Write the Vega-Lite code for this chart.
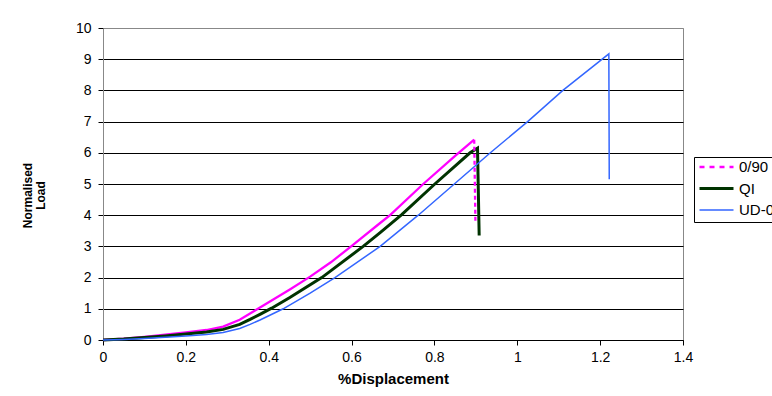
{
  "$schema": "https://vega.github.io/schema/vega-lite/v6.json",
  "width": 580,
  "height": 312,
  "autosize": {"type": "none"},
  "padding": {"left": 103, "top": 28, "right": 89, "bottom": 56},
  "background": "white",
  "config": {
    "font": "Liberation Sans",
    "view": {"stroke": "#888888", "strokeWidth": 1},
    "legend": {
      "orient": "none",
      "legendX": 591,
      "legendY": 129,
      "strokeColor": "black",
      "fillColor": "white",
      "padding": 4,
      "symbolType": "stroke",
      "symbolSize": 1156,
      "clipHeight": 12,
      "rowPadding": 6.5,
      "labelFontSize": 15,
      "labelOffset": 4,
      "labelColor": "black",
      "labelLimit": 200
    }
  },
  "data": {
    "values": [
      {"series": "0/90", "i": 0, "disp": 0, "load": 0},
      {"series": "0/90", "i": 1, "disp": 0.05, "load": 0.04},
      {"series": "0/90", "i": 2, "disp": 0.1, "load": 0.1},
      {"series": "0/90", "i": 3, "disp": 0.15, "load": 0.17},
      {"series": "0/90", "i": 4, "disp": 0.2, "load": 0.24},
      {"series": "0/90", "i": 5, "disp": 0.25, "load": 0.32},
      {"series": "0/90", "i": 6, "disp": 0.29, "load": 0.43},
      {"series": "0/90", "i": 7, "disp": 0.33, "load": 0.65},
      {"series": "0/90", "i": 8, "disp": 0.365, "load": 0.93},
      {"series": "0/90", "i": 9, "disp": 0.4, "load": 1.21},
      {"series": "0/90", "i": 10, "disp": 0.451, "load": 1.62},
      {"series": "0/90", "i": 11, "disp": 0.5, "load": 2.03},
      {"series": "0/90", "i": 12, "disp": 0.55, "load": 2.49},
      {"series": "0/90", "i": 13, "disp": 0.596, "load": 2.97},
      {"series": "0/90", "i": 14, "disp": 0.669, "load": 3.75},
      {"series": "0/90", "i": 15, "disp": 0.693, "load": 4.0},
      {"series": "0/90", "i": 16, "disp": 0.773, "load": 5.0},
      {"series": "0/90", "i": 17, "disp": 0.85, "load": 5.9},
      {"series": "0/90", "i": 18, "disp": 0.896, "load": 6.42},
      {"series": "0/90", "i": 19, "disp": 0.899, "load": 3.75},
      {"series": "QI", "i": 0, "disp": 0, "load": 0},
      {"series": "QI", "i": 1, "disp": 0.05, "load": 0.03},
      {"series": "QI", "i": 2, "disp": 0.1, "load": 0.08},
      {"series": "QI", "i": 3, "disp": 0.15, "load": 0.13},
      {"series": "QI", "i": 4, "disp": 0.2, "load": 0.19},
      {"series": "QI", "i": 5, "disp": 0.25, "load": 0.26},
      {"series": "QI", "i": 6, "disp": 0.29, "load": 0.34},
      {"series": "QI", "i": 7, "disp": 0.33, "load": 0.5},
      {"series": "QI", "i": 8, "disp": 0.355, "load": 0.66},
      {"series": "QI", "i": 9, "disp": 0.38, "load": 0.83},
      {"series": "QI", "i": 10, "disp": 0.407, "load": 1.02},
      {"series": "QI", "i": 11, "disp": 0.451, "load": 1.36},
      {"series": "QI", "i": 12, "disp": 0.528, "load": 2.0},
      {"series": "QI", "i": 13, "disp": 0.628, "load": 3.0},
      {"series": "QI", "i": 14, "disp": 0.669, "load": 3.44},
      {"series": "QI", "i": 15, "disp": 0.721, "load": 4.02},
      {"series": "QI", "i": 16, "disp": 0.801, "load": 5.0},
      {"series": "QI", "i": 17, "disp": 0.886, "load": 6.0},
      {"series": "QI", "i": 18, "disp": 0.904, "load": 6.15},
      {"series": "QI", "i": 19, "disp": 0.908, "load": 3.35},
      {"series": "UD-0", "i": 0, "disp": 0, "load": 0},
      {"series": "UD-0", "i": 1, "disp": 0.05, "load": 0.02},
      {"series": "UD-0", "i": 2, "disp": 0.1, "load": 0.05},
      {"series": "UD-0", "i": 3, "disp": 0.15, "load": 0.09},
      {"series": "UD-0", "i": 4, "disp": 0.2, "load": 0.13},
      {"series": "UD-0", "i": 5, "disp": 0.25, "load": 0.18},
      {"series": "UD-0", "i": 6, "disp": 0.29, "load": 0.24},
      {"series": "UD-0", "i": 7, "disp": 0.33, "load": 0.37},
      {"series": "UD-0", "i": 8, "disp": 0.355, "load": 0.5},
      {"series": "UD-0", "i": 9, "disp": 0.379, "load": 0.64},
      {"series": "UD-0", "i": 10, "disp": 0.435, "load": 1.0},
      {"series": "UD-0", "i": 11, "disp": 0.5, "load": 1.5},
      {"series": "UD-0", "i": 12, "disp": 0.56, "load": 2.0},
      {"series": "UD-0", "i": 13, "disp": 0.669, "load": 3.0},
      {"series": "UD-0", "i": 14, "disp": 0.761, "load": 4.0},
      {"series": "UD-0", "i": 15, "disp": 0.848, "load": 5.0},
      {"series": "UD-0", "i": 16, "disp": 0.935, "load": 6.0},
      {"series": "UD-0", "i": 17, "disp": 1.025, "load": 7.0},
      {"series": "UD-0", "i": 18, "disp": 1.11, "load": 8.0},
      {"series": "UD-0", "i": 19, "disp": 1.221, "load": 9.17},
      {"series": "UD-0", "i": 20, "disp": 1.222, "load": 5.15}
    ]
  },
  "encoding": {
    "x": {
      "field": "disp",
      "type": "quantitative",
      "scale": {"domain": [0, 1.4], "nice": false, "zero": false},
      "axis": {
        "values": [0, 0.2, 0.4, 0.6, 0.8, 1, 1.2, 1.4],
        "format": "~g",
        "grid": false,
        "tickSize": 5,
        "tickColor": "black",
        "domainColor": "black",
        "labelFontSize": 14,
        "labelColor": "black",
        "labelPadding": 5,
        "labelFlush": false,
        "title": "%Displacement",
        "titleFontSize": 15,
        "titleFontWeight": "bold",
        "titleColor": "black",
        "titlePadding": 7
      }
    },
    "y": {
      "field": "load",
      "type": "quantitative",
      "scale": {"domain": [0, 10], "nice": false},
      "axis": {
        "values": [0, 1, 2, 3, 4, 5, 6, 7, 8, 9, 10],
        "grid": true,
        "gridColor": {"condition": {"test": "datum.value === 10", "value": "#888888"}, "value": "black"},
        "gridOpacity": 1,
        "tickSize": 5,
        "tickColor": "black",
        "domainColor": "#888888",
        "labelFontSize": 14,
        "labelColor": "black",
        "labelPadding": 7,
        "title": ["Normalised", "Load"],
        "titleFontSize": 12,
        "titleFontWeight": "bold",
        "titleColor": "black",
        "titleAngle": 270,
        "titleAlign": "center",
        "titleBaseline": "bottom",
        "titleLineHeight": 13,
        "titleX": -69,
        "titleY": 167
      }
    },
    "color": {
      "field": "series",
      "type": "nominal",
      "scale": {"domain": ["0/90", "QI", "UD-0"], "range": ["#ff00ff", "#003300", "#3366ff"]},
      "legend": {
        "title": null,
        "encode": {
          "symbols": {
            "update": {
              "strokeDash": {"signal": "datum.value === '0/90' ? [5, 5] : [1, 0]"}
            }
          }
        }
      }
    },
    "strokeWidth": {
      "field": "series",
      "type": "nominal",
      "scale": {"type": "ordinal", "domain": ["0/90", "QI", "UD-0"], "range": [2.3, 3, 1.5]},
      "legend": {"title": null}
    },
    "order": {"field": "i", "type": "quantitative"}
  },
  "layer": [
    {
      "transform": [{"filter": "!(datum.series === '0/90' && datum.i === 19)"}],
      "mark": {"type": "line", "interpolate": "linear", "strokeJoin": "miter"}
    },
    {
      "transform": [{"filter": "datum.series === '0/90' && datum.i >= 18"}],
      "mark": {"type": "line", "interpolate": "linear", "strokeDash": [4, 3], "strokeJoin": "miter"}
    }
  ]
}
